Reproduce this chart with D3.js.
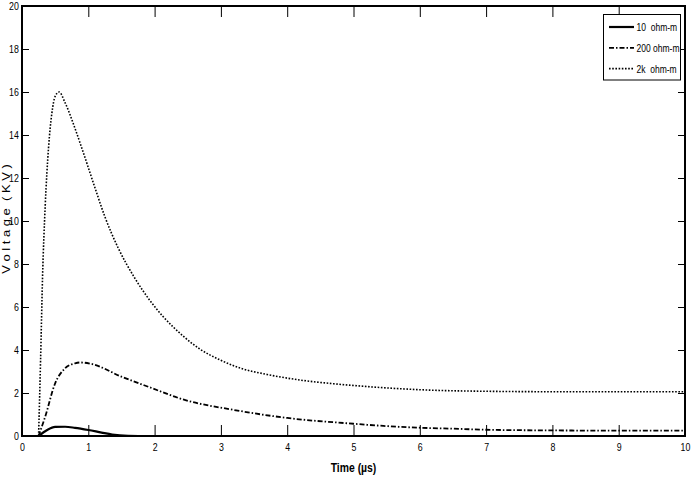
<!DOCTYPE html>
<html>
<head>
<meta charset="utf-8">
<script src="https://cdn.jsdelivr.net/npm/d3@7"></script>
<style>
  body { margin: 0; background: #fff; }
  text { font-family: "Liberation Sans Narrow", "Arial Narrow", "Liberation Sans", sans-serif; }
</style>
</head>
<body>
<svg id="chart" width="693" height="482"></svg>
<script>
// series data (time in microseconds, voltage in kV)
var t10 = [0.25, 0.38, 0.5, 0.65, 0.8, 1.0, 1.2, 1.36, 1.6, 1.83];
var v10 = [0, 0.28, 0.42, 0.43, 0.38, 0.28, 0.16, 0.07, 0.01, 0];

var t200 = [0.25, 0.35, 0.5, 0.65, 0.8, 0.88, 1.05, 1.5, 1.93, 2.43, 3.2, 4, 5, 5.45, 5.95, 6.5, 7, 8, 9, 10];
var v200 = [0, 0.9, 2.45, 3.15, 3.38, 3.42, 3.35, 2.76, 2.26, 1.7, 1.21, 0.84, 0.57, 0.47, 0.39, 0.34, 0.29, 0.26, 0.25, 0.25];

var t2k = [0.25, 0.28, 0.31, 0.35, 0.4, 0.45, 0.5, 0.56, 0.65, 0.8, 0.95, 1.1, 1.25, 1.45, 1.7, 1.93, 2.13, 2.43, 2.68, 3.0, 3.3, 3.7, 4.2, 4.7, 5.2, 5.7, 6.1, 7, 8, 9, 10];
var v2k = [0, 3.5, 7.4, 10.7, 13.4, 15.0, 15.8, 16.0, 15.5, 14.3, 12.95, 11.55, 10.2, 8.75, 7.35, 6.3, 5.55, 4.65, 4.05, 3.52, 3.15, 2.86, 2.6, 2.43, 2.3, 2.2, 2.14, 2.08, 2.06, 2.06, 2.06];

var seriesNames = ["10  ohm-m", "200 ohm-m", "2k  ohm-m"];
var xTicks = [0, 1, 2, 3, 4, 5, 6, 7, 8, 9, 10];
var yTicks = [0, 2, 4, 6, 8, 10, 12, 14, 16, 18, 20];

function drawChart() {
    var svg = d3.select("#chart");
    var pl = 22, pr = 685, pt = 6, pb = 436;
    var narrow = "scale(0.8,1)";

    var x = d3.scaleLinear().domain([0, 10]).range([pl, pr]);
    var y = d3.scaleLinear().domain([0, 20]).range([pb, pt]);

    var series = [
        {name: seriesNames[0], t: t10, v: v10, dash: null, width: 2.2},
        {name: seriesNames[1], t: t200, v: v200, dash: "5,2,1.5,2", width: 1.8},
        {name: seriesNames[2], t: t2k, v: v2k, dash: "1.6,1.6", width: 1.6}
    ];

    var line = d3.line()
        .x(d => x(d[0]))
        .y(d => y(d[1]))
        .curve(d3.curveMonotoneX);

    //curves
    svg.append("g").selectAll("path")
        .data(series)
        .enter()
        .append("path")
        .attr("d", s => line(s.t.map((t, i) => [t, s.v[i]])))
        .attr("fill", "none")
        .attr("stroke", "#000")
        .attr("stroke-width", s => s.width)
        .attr("stroke-dasharray", s => s.dash);

    //axes with inward ticks on all four sides
    svg.append("g")
        .attr("transform", "translate(0," + pb + ")")
        .call(d3.axisBottom(x).tickValues(xTicks).tickSizeInner(-11).tickSizeOuter(0).tickPadding(7));
    svg.append("g")
        .attr("transform", "translate(0," + pt + ")")
        .call(d3.axisTop(x).tickValues(xTicks).tickSizeInner(-11).tickSizeOuter(0).tickFormat(""));
    svg.append("g")
        .attr("transform", "translate(" + pl + ",0)")
        .call(d3.axisLeft(y).tickValues(yTicks).tickSizeInner(-7).tickSizeOuter(0).tickPadding(4));
    svg.append("g")
        .attr("transform", "translate(" + pr + ",0)")
        .call(d3.axisRight(y).tickValues(yTicks).tickSizeInner(-7).tickSizeOuter(0).tickFormat(""));

    svg.selectAll(".tick line").attr("stroke", "#000").attr("stroke-width", 1);
    svg.selectAll(".domain").remove();
    svg.selectAll(".tick text")
        .attr("font-size", 11)
        .attr("fill", "#000")
        .attr("font-family", "'Liberation Sans Narrow', 'Arial Narrow', 'Liberation Sans', sans-serif")
        .attr("transform", narrow);

    svg.append("rect")
        .attr("x", pl).attr("y", pt)
        .attr("width", pr - pl).attr("height", pb - pt)
        .attr("fill", "none")
        .attr("stroke", "#000")
        .attr("stroke-width", 2);

    //labels
    svg.append("g")
        .attr("transform", "translate(" + ((pl + pr) / 2) + ",472)")
        .append("text")
        .attr("transform", narrow)
        .attr("text-anchor", "middle")
        .attr("font-size", 13)
        .attr("font-weight", "bold")
        .text("Time (\u00b5s)");

    svg.append("g")
        .attr("transform", "translate(9.5,219) rotate(-90)")
        .append("text")
        .attr("transform", "scale(1,0.85)")
        .attr("text-anchor", "middle")
        .attr("font-size", 13)
        .attr("xml:space", "preserve")
        .text("V o l t a g e  ( K V )");

    //legend
    var legend = svg.append("g");
    legend.append("rect")
        .attr("x", 603.5).attr("y", 14.5)
        .attr("width", 77).attr("height", 65.5)
        .attr("fill", "#fff")
        .attr("stroke", "#000")
        .attr("stroke-width", 1);

    var item = legend.selectAll("g")
        .data(series)
        .enter()
        .append("g")
        .attr("transform", (d, i) => "translate(0," + (27 + i * 20.8) + ")");

    item.append("line")
        .attr("x1", 609).attr("x2", 634)
        .attr("stroke", "#000")
        .attr("stroke-width", d => d.width)
        .attr("stroke-dasharray", d => d.dash);

    item.append("g")
        .attr("transform", "translate(636.5,0)")
        .append("text")
        .attr("transform", "scale(0.74,1)")
        .attr("dy", "0.35em")
        .attr("font-size", 11.5)
        .attr("xml:space", "preserve")
        .text(d => d.name);
}

drawChart();
</script>
</body>
</html>
